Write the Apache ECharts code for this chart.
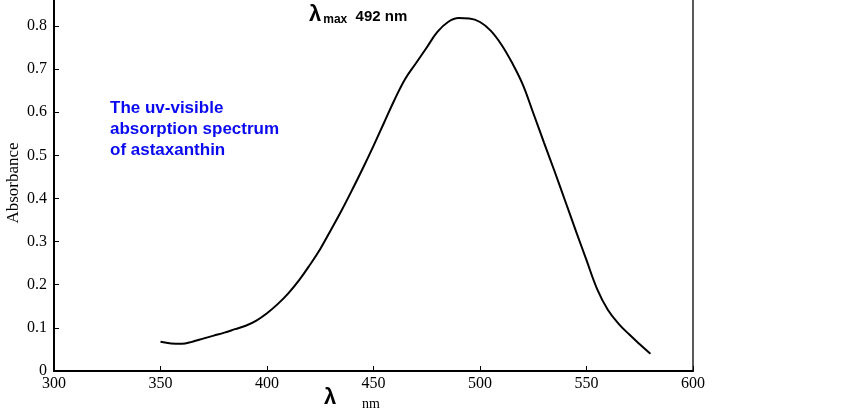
<!DOCTYPE html>
<html>
<head>
<meta charset="utf-8">
<script src="https://cdn.jsdelivr.net/npm/echarts@6/dist/echarts.min.js"></script>
<style>
html, body { margin: 0; padding: 0; background: #fff; }
#chart { width: 860px; height: 413px; }
</style>
</head>
<body>
<div id="chart"></div>
<script>
// wavelength (nm) and absorbance
var wavelength = [350, 355, 360, 365, 370, 375, 380, 385, 390, 395,
	400, 405, 410, 415, 420, 425, 430, 435, 440, 445,
	450, 455, 460, 465, 470, 475, 480, 485, 490, 495,
	500, 505, 510, 515, 520, 525, 530, 535, 540, 545,
	550, 555, 560, 565, 570, 575, 580];
var absorbance = [0.068, 0.064, 0.063, 0.068, 0.075, 0.082, 0.089, 0.097, 0.105, 0.117,
	0.134, 0.155, 0.180, 0.210, 0.245, 0.283, 0.327, 0.372, 0.420, 0.470,
	0.522, 0.576, 0.630, 0.678, 0.714, 0.750, 0.786, 0.809, 0.818, 0.817,
	0.809, 0.789, 0.757, 0.715, 0.665, 0.598, 0.530, 0.463, 0.394, 0.325,
	0.257, 0.190, 0.142, 0.110, 0.085, 0.062, 0.040];
var xTicks = [300, 350, 400, 450, 500, 550, 600];
var yTicks = [0, 0.1, 0.2, 0.3, 0.4, 0.5, 0.6, 0.7, 0.8];

var points = [];
for (var i = 0; i < wavelength.length; i++) {
	points.push([wavelength[i], absorbance[i]]);
}

var chartDom = document.getElementById('chart');
var myChart = echarts.init(chartDom);

var serif = '"Liberation Serif", "DejaVu Serif", serif';
var sans = '"Liberation Sans", Arial, sans-serif';

var option = {
	animation: false,
	grid: { left: 54, right: 167, top: 0, bottom: 42, outerBoundsMode: 'none', containLabel: false },
	xAxis: {
		type: 'value',
		min: xTicks[0],
		max: xTicks[xTicks.length - 1],
		interval: 50,
		splitLine: { show: false },
		axisLine: { lineStyle: { color: '#000', width: 2 } },
		axisTick: { inside: true, length: 5, lineStyle: { color: '#000', width: 1 } },
		axisLabel: { color: '#000', fontFamily: serif, fontSize: 16, margin: 5 }
	},
	yAxis: [
		{
			type: 'value',
			min: 0,
			max: 0.86,
			interval: 0.1,
			splitLine: { show: false },
			axisLine: { lineStyle: { color: '#000', width: 2 } },
			axisTick: { inside: true, length: 5, lineStyle: { color: '#000', width: 1 } },
			axisLabel: {
				color: '#000', fontFamily: serif, fontSize: 16, margin: 7,
				showMaxLabel: false,
				formatter: function (v) {
					var r = Math.round(v * 10) / 10;
					if (yTicks.indexOf(r) < 0 || Math.abs(r - v) > 1e-6) return '';
					return r === 0 ? '0' : r.toFixed(1);
				}
			}
		},
		{
			type: 'value',
			position: 'right',
			min: 0,
			max: 0.86,
			splitLine: { show: false },
			axisLine: { show: true, lineStyle: { color: '#222', width: 1.5 } },
			axisTick: { show: false },
			axisLabel: { show: false }
		}
	],
	series: [
		{
			type: 'line',
			data: points,
			smooth: 0.4,
			showSymbol: false,
			lineStyle: { color: '#000', width: 2 }
		}
	],
	graphic: [
		{
			type: 'text', x: 14, y: 183, rotation: Math.PI / 2,
			style: {
				text: 'Absorbance', fill: '#000', font: '17px ' + serif,
				align: 'center', verticalAlign: 'middle'
			}
		},
		{
			type: 'text', left: 110, top: 98,
			style: {
				text: 'The uv-visible\nabsorption spectrum\nof astaxanthin',
				fill: '#0a0af0', font: 'bold 17px ' + sans, lineHeight: 21
			}
		},
		{
			type: 'text', left: 309, top: 4,
			style: {
				text: '{l|λ}{s|max}{v|  492 nm}',
				rich: {
					l: { fill: '#000', font: 'bold 22px ' + sans, verticalAlign: 'bottom' },
					s: { fill: '#000', font: 'bold 12px ' + sans, padding: [10, 0, 0, 2] },
					v: { fill: '#000', font: 'bold 15px ' + sans, padding: [4, 0, 0, 0] }
				}
			}
		},
		{
			type: 'text', left: 324, top: 387,
			style: { text: 'λ', fill: '#000', font: 'bold 22px ' + sans }
		},
		{
			type: 'text', left: 362, top: 397,
			style: { text: 'nm', fill: '#000', font: '14px ' + serif }
		}
	]
};

myChart.setOption(option);
</script>
</body>
</html>
